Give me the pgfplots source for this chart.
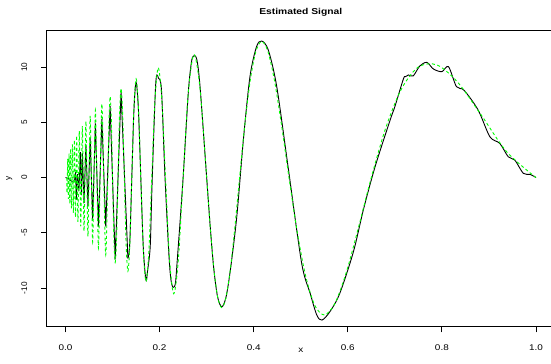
\documentclass[border=0pt]{standalone}
\usepackage{pgfplots}
\pgfplotsset{compat=1.18}
\usepackage{fontspec}
\setmainfont{Liberation Sans}[FakeStretch=1.2]
\newfontfamily\ylfont{Liberation Sans}
\definecolor{rgreen}{RGB}{0,255,0}
\begin{document}
\begin{tikzpicture}
\begin{axis}[
  scale only axis,
  width=508.1bp, height=296.7bp,
  xmin=-0.04, xmax=1.04, ymin=-13.5, ymax=13.35,
  axis line style={black, line width=0.9bp},
  every tick/.style={black, line width=0.9bp},
  tick align=outside, major tick length=5.7bp,
  tick pos=left,
  xtick={0,0.2,0.4,0.6,0.8,1.0},
  xticklabels={0.0,0.2,0.4,0.6,0.8,1.0},
  ytick={-10,-5,0,5,10},
  yticklabels={-10,-5,0,5,10},
  xticklabel style={font=\fontsize{8.3}{10}\selectfont, anchor=center, yshift=-15.3bp},
  yticklabel style={font=\ylfont\fontsize{8.3}{10}\selectfont, xshift=-16.7bp, rotate=90, anchor=center},
  every axis x label/.style={at={(axis description cs:0.5,0)}, anchor=center, yshift=-23.5bp, font=\fontsize{8.3}{10}\selectfont},
  every axis y label/.style={at={(axis description cs:0,0.5)}, xshift=-37.5bp, rotate=90, anchor=center, font=\ylfont\fontsize{8.3}{10}\selectfont},
  every axis title/.style={at={(axis description cs:0.5,1)}, anchor=center, yshift=18bp, font=\bfseries\fontsize{8.6}{10}\selectfont},
  xlabel={x}, ylabel={y}, title={Estimated Signal},
]
% estimated signal, high-frequency part
\addplot[black, line width=0.9bp] coordinates {
(0,0) (0.006,-0.1) (0.013,-0.35) (0.019,-0.3) (0.0215,0.5) (0.023,-2.0) (0.0255,0.3)
(0.0285,-1.2) (0.0315,2.3) (0.034,-1.6) (0.0357,2.2) (0.0394,-2.3) (0.0433,3.0)
(0.0477,-2.6) (0.0524,3.6) (0.0577,-3.85) (0.0635,4.9) (0.070,-4.45) (0.0773,5.3)
(0.0855,-4.45) (0.0948,6.45) (0.1056,-7.4) (0.118,7.77) (0.1326,-7.31)
};
% estimated signal, rest
\addplot[black, line width=0.9bp, smooth] coordinates {
(0.1326,-7.31) (0.1365,-6.0) (0.1409,0) (0.1454,6.1) (0.150,8.6) (0.1549,6.2) (0.160,0)
(0.1654,-6.4) (0.171,-9.3) (0.1745,-8.4) (0.180,-6.26) (0.1833,-1.5) (0.188,4.5)
(0.1915,8.3) (0.194,9.28) (0.1975,9.0) (0.204,7.9) (0.2115,0) (0.2205,-7.5) (0.226,-9.7)
(0.233,-9.7) (0.2375,-7.5) (0.250,0) (0.261,7.7) (0.2675,10.4) (0.272,11.0) (0.279,10.7)
(0.286,8.2) (0.300,0) (0.3075,-4.4) (0.315,-8.2) (0.3232,-10.8) (0.332,-11.7)
(0.3407,-10.9) (0.350,-8.5) (0.364,-3.55) (0.378,3.39) (0.392,9.12) (0.406,11.84)
(0.417,12.35) (0.431,11.54) (0.449,8.22) (0.474,0.68) (0.502,-7.77) (0.520,-10.48)
(0.534,-12.44) (0.545,-12.9) (0.562,-12.14) (0.583,-10.48) (0.612,-6.71) (0.633,-2.94)
(0.658,0.98) (0.690,5.20) (0.700,6.41) (0.718,8.9) (0.722,9.12) (0.729,9.28) (0.739,9.19)
(0.753,10.09) (0.768,10.42) (0.782,9.82) (0.800,9.58) (0.814,10.03) (0.831,8.22)
(0.847,7.9) (0.877,6.11) (0.902,3.69) (0.923,3.09) (0.941,1.88) (0.955,1.58)
(0.973,0.38) (0.987,0.29) (1.0,0.0)
};
% true signal
\addplot[rgreen, line width=0.9bp, dash pattern=on 3bp off 2.5bp, smooth] coordinates {
(0.0025,0) (0.00316,-1.403) (0.00385,0) (0.00455,1.683) (0.00526,0) (0.006,-1.931)
(0.00676,0) (0.00753,2.161) (0.00833,0) (0.00915,-2.381) (0.01,0) (0.01087,2.592)
(0.01176,0) (0.01269,-2.798) (0.01364,0) (0.01462,3.001) (0.015625,0) (0.01667,-3.201)
(0.01774,0) (0.01885,3.400) (0.02,0) (0.02119,-3.600) (0.02241,0) (0.02368,3.801)
(0.025,0) (0.02636,-4.005) (0.02778,0) (0.02925,4.213) (0.03077,0) (0.03235,-4.423)
(0.034,0) (0.03571,4.640) (0.0375,0) (0.03936,-4.861) (0.0413,0) (0.04333,5.090)
(0.04545,0) (0.04767,-5.327) (0.05,0) (0.05244,5.573) (0.055,0) (0.05769,-5.829)
(0.06053,0) (0.06351,6.097) (0.06667,0) (0.07,-6.379) (0.07353,0) (0.07727,6.676)
(0.08125,0) (0.08548,-6.990) (0.09,0) (0.09237,5.119) (0.09483,7.325) (0.09737,5.241)
(0.1,0) (0.10273,-5.367) (0.10556,-7.682) (0.10849,-5.498) (0.11154,0) (0.11471,5.633)
(0.118,8.065) (0.12143,5.774) (0.125,0) (0.12872,-5.920) (0.13261,-8.479) (0.13667,-6.072)
(0.14091,0) (0.14535,6.230) (0.15,8.927) (0.15488,6.396) (0.16,0) (0.16538,-6.568)
(0.17105,-9.414) (0.17703,-6.747) (0.18333,0) (0.19,6.935) (0.19706,9.945) (0.20455,7.131)
(0.2125,0) (0.22097,-7.334) (0.23,-10.521) (0.23966,-7.546) (0.25,0) (0.26111,7.765)
(0.27308,11.139) (0.286,7.988) (0.3,0) (0.30745,-4.415) (0.31522,-8.213) (0.32333,-10.804)
(0.33182,-11.772) (0.3407,-10.947) (0.35,-8.432) (0.35976,-4.592) (0.37,0) (0.38077,4.646)
(0.39211,8.631) (0.40405,11.334) (0.41667,12.325) (0.43,11.435) (0.44412,8.783)
(0.45909,4.768) (0.475,0) (0.49194,-4.783) (0.51,-8.837) (0.52931,-11.529) (0.55,-12.437)
(0.57222,-11.428) (0.59615,-8.674) (0.622,-4.639) (0.65,0) (0.68043,4.461) (0.71364,7.991)
(0.75,10.001) (0.79,10.183) (0.83421,8.590) (0.88333,5.675) (0.93824,2.303) (1.0,0)
};
\end{axis}
\pgfresetboundingbox
\path[use as bounding box] (-46.7bp,-37.3bp) rectangle (504.3bp,326.7bp);
\end{tikzpicture}
\end{document}
